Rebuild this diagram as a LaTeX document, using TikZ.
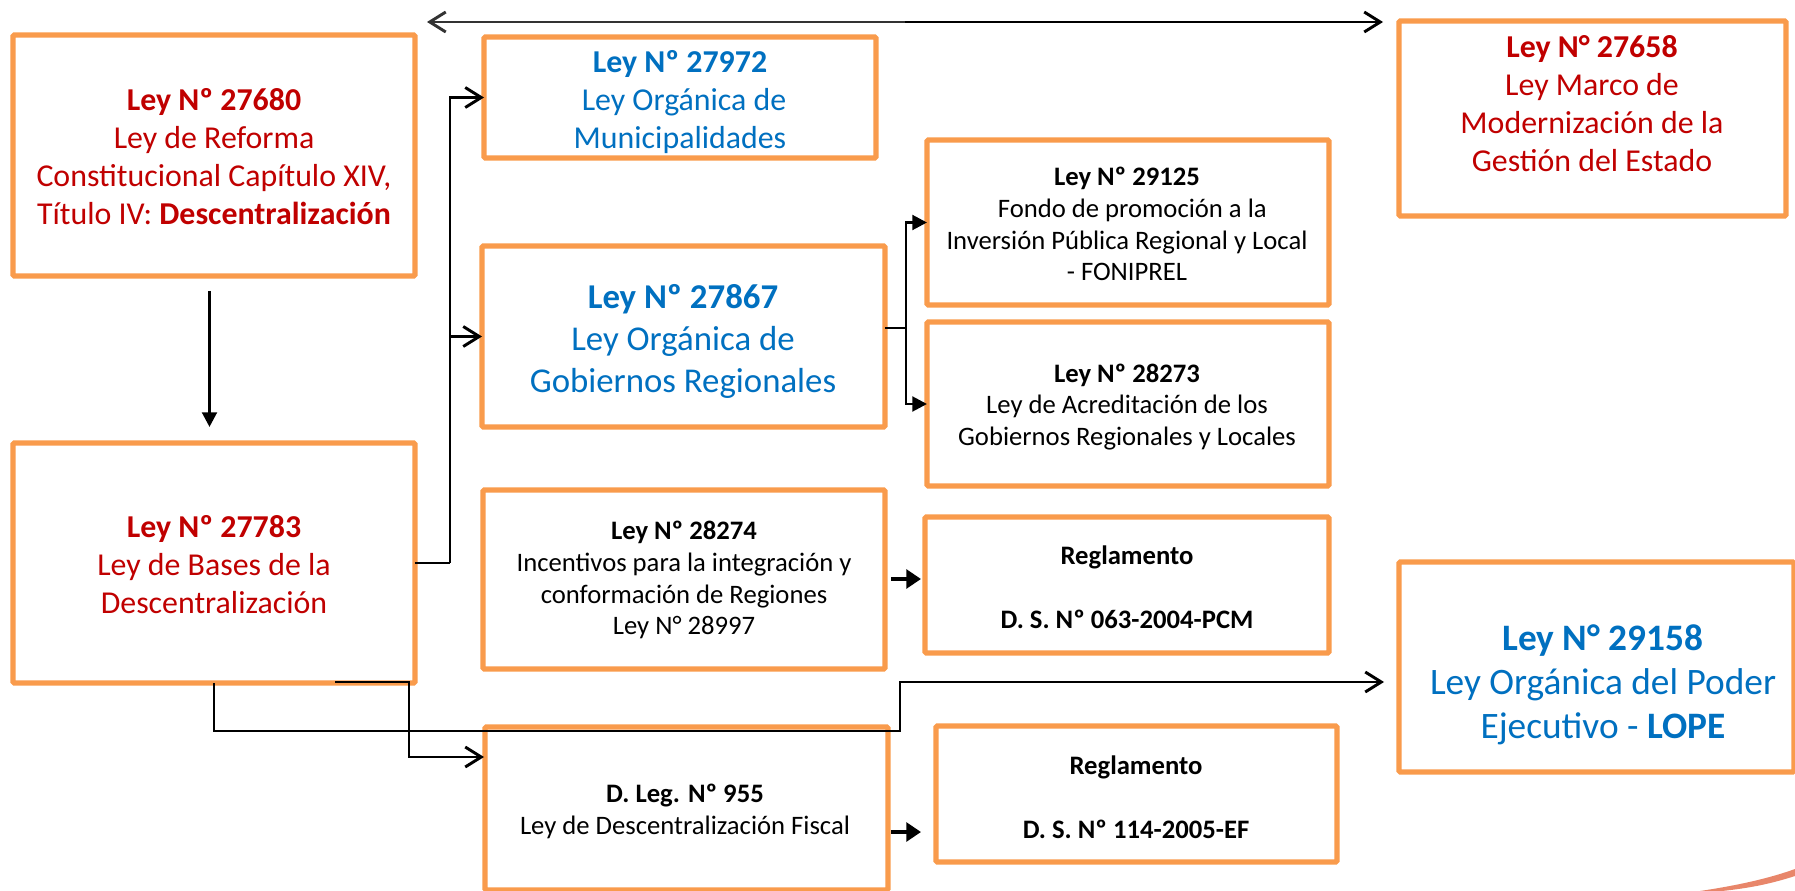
\documentclass[tikz,border=0pt]{standalone}
\usepackage{fontspec}
\setmainfont{Carlito}
\usetikzlibrary{arrows.meta,calc}
\definecolor{boxor}{HTML}{F99B4C}
\definecolor{lawred}{HTML}{C00000}
\definecolor{lawblue}{HTML}{0070C0}
\definecolor{swoosh}{HTML}{E8866A}
\newcommand{\fs}[2]{\fontsize{#1}{#2}\selectfont}
\tikzset{
  lawbox/.style={draw=boxor,line width=4pt,rounded corners=1pt,inner sep=0pt,outer sep=0pt,fill=white},
  lawtext/.style={align=center,inner sep=0pt,outer sep=0pt},
  big/.style={lawtext,font=\fs{23.9}{28.5}},
  bigger/.style={lawtext,font=\fs{26.1}{31.5}},
  biggest/.style={lawtext,font=\fs{28}{33}},
  small/.style={lawtext,font=\fs{20}{23.9}},
  link/.style={draw=black,line width=2.2pt},
  openhead/.style={link,-{Straight Barb[length=12pt,width=15pt,line width=2.2pt]}},
  solidhead/.style={link,-{Triangle[length=11pt,width=11pt]}},
  stubhead/.style={draw=black,line width=3pt,-{Triangle[length=11pt,width=14pt]}}
}
\begin{document}
\begin{tikzpicture}[x=0.75pt,y=-0.75pt]
\useasboundingbox (0,0) rectangle (1795,891);
\fill[swoosh] (1700,891) .. controls (1740,885) and (1770,878) .. (1795,869) -- (1795,876) .. controls (1770,884) and (1750,888) .. (1722,891) -- cycle;

% boxes
\node[lawbox,minimum width=301.5pt,minimum height=180.75pt] (a) at (214,155.5) {};
\node[lawbox,minimum width=301.5pt,minimum height=180pt] (b) at (214,563) {};
\node[lawbox,minimum width=294pt,minimum height=90.75pt] (m) at (680,97.5) {};
\node[lawbox,minimum width=302.25pt,minimum height=135.75pt] (g) at (683.5,336.5) {};
\node[lawbox,minimum width=301.5pt,minimum height=123.75pt] (f) at (1128,222.5) {};
\node[lawbox,minimum width=301.5pt,minimum height=123pt] (c) at (1128,404) {};
\node[lawbox,minimum width=301.5pt,minimum height=134.25pt] (i) at (684,579.5) {};
\node[lawbox,minimum width=303pt,minimum height=102pt] (r1) at (1127,585) {};
\node[lawbox,minimum width=302.25pt,minimum height=122.25pt] (d) at (686.5,808.5) {};
\node[lawbox,minimum width=300.75pt,minimum height=102pt] (r2) at (1136.5,794) {};
\node[lawbox,minimum width=290.25pt,minimum height=146.25pt] (p) at (1592.5,118.5) {};
\node[lawbox,minimum width=296.25pt,minimum height=157.5pt] (l) at (1596.5,667) {};

% texts
\node[big,text=lawred] (ta) at (214,157) {\textbf{Ley Nº 27680}\\Ley de Reforma\\Constitucional Capítulo XIV,\\Título IV: \textbf{Descentralización}};
\node[big,text=lawred] (tb) at (214,565) {\textbf{Ley Nº 27783}\\Ley de Bases de la\\Descentralización};
\node[big,text=lawblue] (tm) at (680,102) {\textbf{Ley Nº 27972}\\\hspace*{6pt}Ley Orgánica de\\Municipalidades};
\node[bigger,text=lawblue] (tg) at (683,341) {\textbf{Ley Nº 27867}\\Ley Orgánica de\\Gobiernos Regionales};
\node[small] (tf) at (1127,224) {\textbf{Ley Nº 29125}\\\hspace*{8pt}Fondo de promoción a la\\Inversión Pública Regional y Local\\- FONIPREL};
\node[small] (tc) at (1127,407) {\textbf{Ley Nº 28273}\\Ley de Acreditación de los\\Gobiernos Regionales y Locales};
\node[small] (ti) at (684,580) {\textbf{Ley Nº 28274}\\Incentivos para la integración y\\conformación de Regiones\\Ley N° 28997};
\node[small] (tr1) at (1127,587) {\textbf{Reglamento}\\[23.9pt]\textbf{D. S. Nº 063-2004-PCM}};
\node[small] (td) at (685,811) {\textbf{D. Leg. Nº 955}\\Ley de Descentralización Fiscal};
\node[small] (tr2) at (1136,797) {\textbf{Reglamento}\\[23.9pt]\textbf{D. S. Nº 114-2005-EF}};
\node[big,text=lawred] (tp) at (1592,104) {\textbf{Ley N° 27658}\\Ley Marco de\\Modernización de la\\Gestión del Estado};
\node[biggest,text=lawblue] (tl) at (1603,685) {\textbf{Ley N° 29158}\\Ley Orgánica del Poder\\Ejecutivo - \textbf{LOPE}};

% free ends
\coordinate (topl) at (427,22);
\coordinate (topm) at (905,22);
\coordinate (topr) at (1383,22);
\coordinate (astart) at (209.5,291);
\coordinate (aend) at (209.5,427);
\coordinate (bm) at (450,563);
\coordinate (gout) at (885,328);
\coordinate (gj) at (906,328);
\coordinate (iout) at (891,579);
\coordinate (r1in) at (921,579);
\coordinate (dout) at (891,832);
\coordinate (r2in) at (921,832);
\coordinate (b1) at (214,683);
\coordinate (b2) at (335,682);
\coordinate (dj) at (484,757);
\coordinate (lj) at (1384,682);

% connectors
\draw[openhead,draw=black!80] (topm) -- (topl);
\draw[openhead] (topm) -- (topr);
\draw[solidhead] (astart) -- (aend);
\draw[link] (b.east) -- (bm);
\draw[openhead] (bm) |- (m.west);
\draw[openhead] (bm |- g.west) -- (g.west);
\draw[link] (gout) -- (gj);
\draw[solidhead] (gj) |- (f.west);
\draw[solidhead] (gj) |- (c.west);
\draw[stubhead] (iout) -- (r1in);
\draw[stubhead] (dout) -- (r2in);
\draw[openhead] (b1) -- (214,731) -- (900,731) -- (900,682) -- (lj);
\draw[openhead] (b2) -- (409,682) -- (409,757) -- (dj);
\end{tikzpicture}
\end{document}
